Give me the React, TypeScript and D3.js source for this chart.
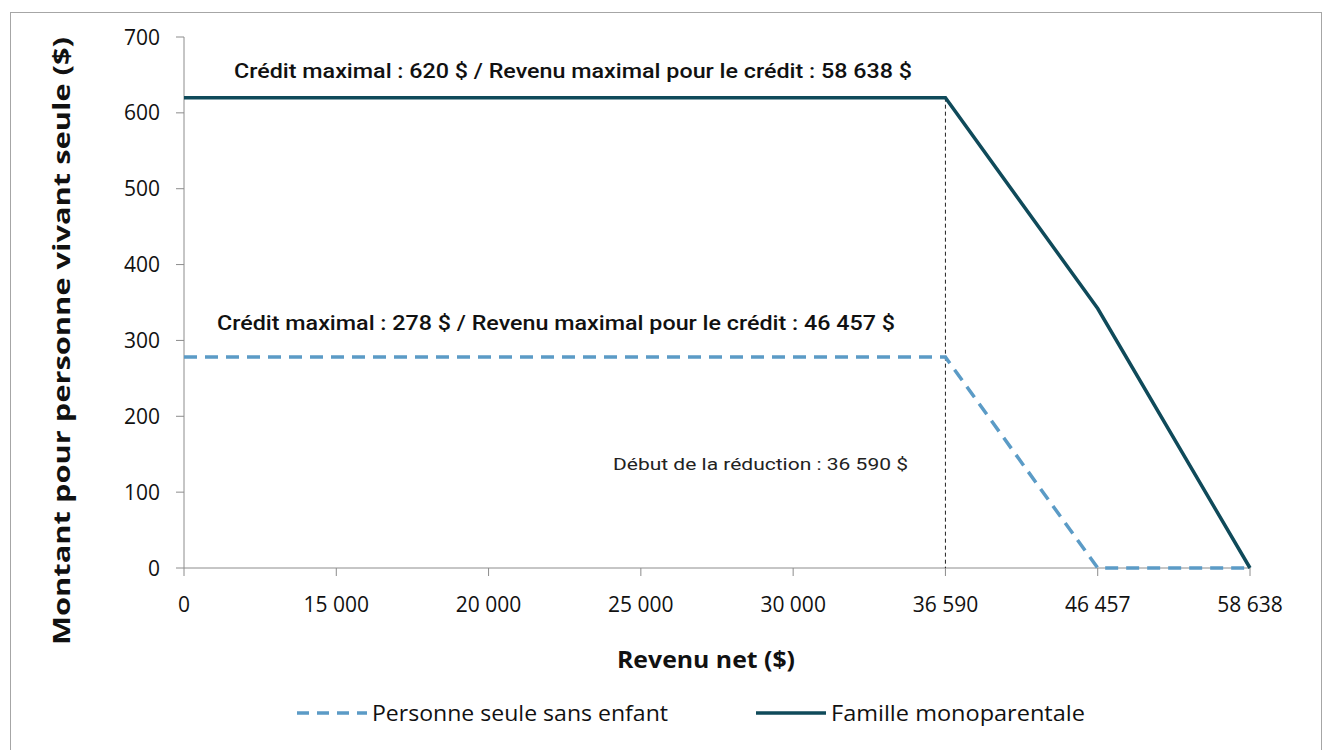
import React from 'react';
import * as d3 from 'd3';

// x categories (revenu net) - evenly spaced like an Excel category axis
const categories = ['0', '15 000', '20 000', '25 000', '30 000', '36 590', '46 457', '58 638'];
const famille = [620, 620, 620, 620, 620, 620, 342, 0];
const personneSeule = [278, 278, 278, 278, 278, 278, 0, 0];
const yTicks = [0, 100, 200, 300, 400, 500, 600, 700];

const seriesNames = ['Personne seule sans enfant', 'Famille monoparentale'];
const annotTop = 'Crédit maximal : 620 $ / Revenu maximal pour le crédit : 58 638 $';
const annotLow = 'Crédit maximal : 278 $ / Revenu maximal pour le crédit : 46 457 $';
const annotStart = 'Début de la réduction : 36 590 $';
const startCategory = '36 590';

const W = 1325;
const H = 750;
const darkTeal = '#0f4a5a';
const lightBlue = '#5b9bc6';
const axisGray = '#8c8c8c';
const tickFont = '"Open Sans", sans-serif';
const noteFont = 'Roboto, "Noto Sans", sans-serif';

export default function App() {
  const x = d3.scalePoint<string>().domain(categories).range([184, 1250]);
  const y = d3.scaleLinear().domain([0, 700]).range([568, 37]);

  const line = d3.line<number>()
    .x((d, i) => x(categories[i]) as number)
    .y(d => y(d));

  const xStart = x(startCategory) as number;

  return (
    <svg width={W} height={H} style={{ position: 'absolute', left: 0, top: 0, background: '#fff' }}>
      {/* chart frame */}
      <rect x={10.5} y={12.5} width={1311} height={760} fill="none" stroke="#a6a6a6" strokeWidth={1} />

      {/* y axis */}
      <line x1={184} x2={184} y1={y(700)} y2={y(0)} stroke={axisGray} strokeWidth={1} />
      {yTicks.map(t => (
        <g key={t}>
          <line x1={176} x2={184} y1={y(t)} y2={y(t)} stroke={axisGray} />
          <text x={160} y={y(t) + 7.5} textAnchor="end" fontFamily={tickFont} fontSize={21} fill="#111">{t}</text>
        </g>
      ))}

      {/* x axis */}
      <line x1={184} x2={1250} y1={y(0)} y2={y(0)} stroke={axisGray} strokeWidth={1} />
      {categories.map(c => (
        <g key={c}>
          <line x1={x(c)} x2={x(c)} y1={y(0)} y2={y(0) + 8} stroke={axisGray} />
          <text x={x(c)} y={612} textAnchor="middle" fontFamily={tickFont} fontSize={21} fill="#111">{c}</text>
        </g>
      ))}

      {/* start of reduction marker */}
      <line x1={xStart} x2={xStart} y1={y(famille[5])} y2={y(0)} stroke="#222" strokeWidth={1} strokeDasharray="4,3" />

      {/* series */}
      <path d={line(personneSeule) || ''} fill="none" stroke={lightBlue} strokeWidth={3.5} strokeDasharray="13,8" />
      <path d={line(famille) || ''} fill="none" stroke={darkTeal} strokeWidth={3.5} />

      {/* annotations */}
      <text x={573} y={78} textAnchor="middle" fontFamily={noteFont} fontWeight={500} fontSize={20}
        textLength={678} lengthAdjust="spacingAndGlyphs" fill="#111">{annotTop}</text>
      <text x={556} y={330} textAnchor="middle" fontFamily={noteFont} fontWeight={500} fontSize={20}
        textLength={678} lengthAdjust="spacingAndGlyphs" fill="#111">{annotLow}</text>
      <text x={908} y={470} textAnchor="end" fontFamily={noteFont} fontSize={16.5}
        textLength={295} lengthAdjust="spacingAndGlyphs" fill="#222">{annotStart}</text>

      {/* axis titles */}
      <text transform={`translate(70, 341) rotate(-90)`} textAnchor="middle" fontFamily={tickFont} fontWeight={700}
        fontSize={24} textLength={608} lengthAdjust="spacingAndGlyphs" fill="#111">Montant pour personne vivant seule ($)</text>
      <text x={706} y={668} textAnchor="middle" fontFamily={tickFont} fontWeight={700} fontSize={23}
        textLength={178} lengthAdjust="spacingAndGlyphs" fill="#111">Revenu net ($)</text>

      {/* legend */}
      <line x1={297} x2={367} y1={713} y2={713} stroke={lightBlue} strokeWidth={3.5} strokeDasharray="12,8" />
      <text x={372} y={721} fontFamily={tickFont} fontSize={21} textLength={296} lengthAdjust="spacingAndGlyphs" fill="#111">{seriesNames[0]}</text>
      <line x1={756} x2={826} y1={713} y2={713} stroke={darkTeal} strokeWidth={3.5} />
      <text x={831} y={721} fontFamily={tickFont} fontSize={21} textLength={254} lengthAdjust="spacingAndGlyphs" fill="#111">{seriesNames[1]}</text>
    </svg>
  );
}
